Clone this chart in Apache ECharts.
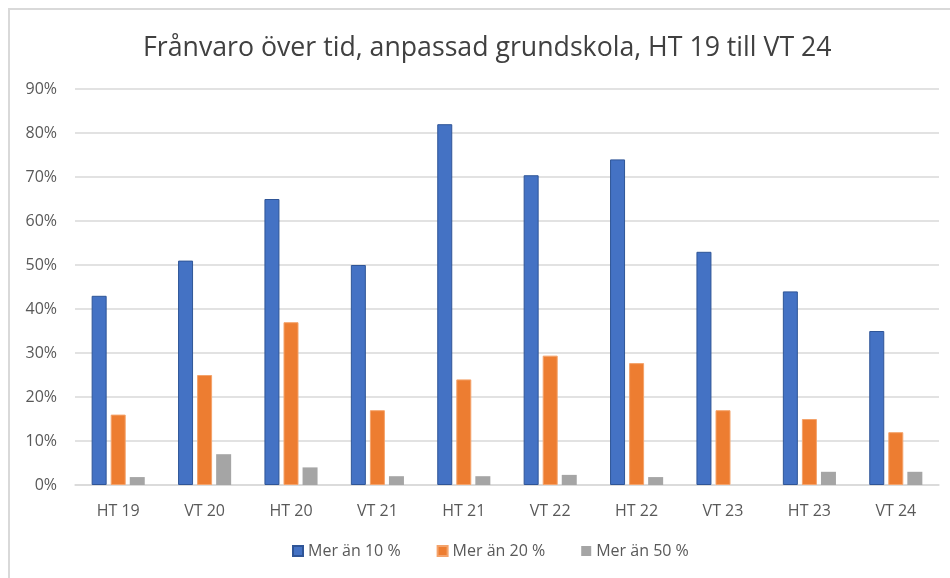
<!DOCTYPE html>
<html>
<head>
<meta charset="utf-8">
<script src="https://cdn.jsdelivr.net/npm/echarts@6/dist/echarts.min.js"></script>
<style>
  html, body { margin: 0; padding: 0; background: #fff; }
  #chart { width: 950px; height: 578px; }
</style>
</head>
<body>
<div id="chart"></div>
<script>
var terms = ['HT 19', 'VT 20', 'HT 20', 'VT 21', 'HT 21', 'VT 22', 'HT 22', 'VT 23', 'HT 23', 'VT 24'];
var over10 = [43, 51, 65, 50, 82, 70.4, 74, 53, 44, 35];
var over20 = [16, 25, 37, 17, 24, 29.4, 27.7, 17, 15, 12];
var over50 = [1.8, 7, 4, 2, 2, 2.3, 1.8, 0, 3, 3];
var yTicks = [0, 10, 20, 30, 40, 50, 60, 70, 80, 90];

var font = 'Open Sans';
var chart = echarts.init(document.getElementById('chart'));

function barSeries(name, data, color, border, bw) {
    return {
        name: name,
        type: 'bar',
        data: data,
        barWidth: 15,
        barGap: '27%',
        itemStyle: { color: color, borderColor: border, borderWidth: bw }
    };
}

var option = {
    animation: false,
    backgroundColor: '#fff',
    graphic: [{
        type: 'rect',
        shape: { x: 9, y: 9, width: 980, height: 620 },
        style: { fill: null, stroke: '#d9d9d9', lineWidth: 2 },
        silent: true
    }],
    title: {
        text: 'Frånvaro över tid, anpassad grundskola, HT 19 till VT 24',
        left: 138,
        top: 30,
        textStyle: { fontFamily: font, fontSize: 26.7, fontWeight: 'normal', color: '#404040' }
    },
    legend: {
        left: 287,
        bottom: 14,
        itemWidth: 10,
        itemHeight: 10,
        itemGap: 36,
        icon: 'rect',
        textStyle: { fontFamily: font, fontSize: 16, color: '#595959' }
    },
    grid: { left: 75, right: 11, top: 89, bottom: 93 },
    xAxis: {
        type: 'category',
        data: terms,
        axisLine: { lineStyle: { color: '#d9d9d9', width: 1.5 } },
        axisTick: { show: false },
        axisLabel: { fontFamily: font, fontSize: 16, color: '#595959', margin: 18 }
    },
    yAxis: {
        type: 'value',
        min: yTicks[0],
        max: yTicks[yTicks.length - 1],
        interval: 10,
        axisLine: { show: false },
        axisTick: { show: false },
        splitLine: { lineStyle: { color: '#d9d9d9', width: 1.5 } },
        axisLabel: {
            fontFamily: font, fontSize: 16, color: '#595959', margin: 18,
            formatter: function (v) { return v + '%'; }
        }
    },
    series: [
        barSeries('Mer än 10 %', over10, '#4472c4', '#2f5597', 1),
        barSeries('Mer än 20 %', over20, '#ed7d31', '#f4a36b', 1),
        barSeries('Mer än 50 %', over50, '#a5a5a5', '#c0c0c0', 0)
    ]
};

chart.setOption(option);
</script>
</body>
</html>
